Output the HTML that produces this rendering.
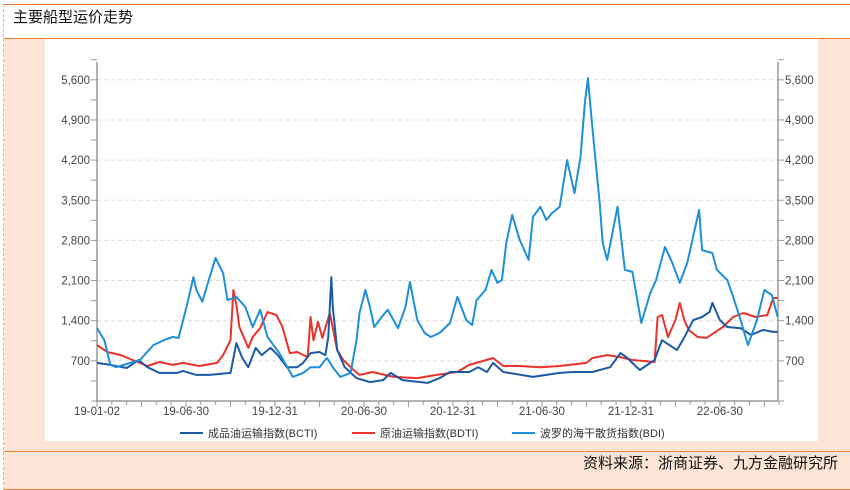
<!DOCTYPE html>
<html><head><meta charset="utf-8"><style>
body{margin:0;width:850px;height:490px;background:#fff;position:relative;overflow:hidden;font-family:"Liberation Sans","Noto Sans CJK SC",sans-serif}
.abs{position:absolute}
</style></head><body>
<div class="abs" style="left:3px;top:4px;width:0;height:486px;border-left:1px dashed #bbb"></div>
<div class="abs" style="left:4px;top:4px;width:846px;height:1px;background:#ed7d31"></div>
<div class="abs" style="left:13px;top:6px;font-size:15px;color:#111;font-family:'Noto Sans CJK SC',sans-serif">主要船型运价走势</div>
<div class="abs" style="left:4px;top:38px;width:846px;height:1px;background:#ed7d31"></div>
<div class="abs" style="left:4px;top:39px;width:846px;height:412px;background:#fce4d6"></div>
<div class="abs" style="left:4px;top:451px;width:846px;height:37px;background:#fce4d6;border-top:1px solid #ed7d31;border-bottom:1px solid #ed7d31"></div>
<div class="abs" style="right:12px;top:452px;font-size:15px;color:#111;font-family:'Noto Sans CJK SC',sans-serif">资料来源：浙商证券、九方金融研究所</div>
<svg class="abs" style="left:0;top:0" width="850" height="490">
<rect x="45" y="39" width="773" height="402" fill="#fff"/>
<g id="grid"></g><g id="axes"></g><g id="series"></g><g id="legend"></g>
</svg>
<script>
const yTicks=[700,1400,2100,2800,3500,4200,4900,5600];
const xTickLabels=["19-01-02","19-06-30","19-12-31","20-06-30","20-12-31","21-06-30","21-12-31","22-06-30"];
const xTickMonths=[0,6,12,18,24,30,36,42];
const seriesNames=["成品油运输指数(BCTI)","原油运输指数(BDTI)","波罗的海干散货指数(BDI)"];
const bdiT=[0,0.5,0.9,1.3,2.2,2.9,3.8,4.5,5.1,5.5,6.1,6.5,6.7,7.1,7.5,8.0,8.5,8.8,9.4,10.0,10.5,11.0,11.5,12.3,13.2,13.9,14.4,15.0,15.5,15.9,16.4,17.1,17.5,17.7,18.1,18.4,18.7,19.2,19.6,20.0,20.3,20.8,21.1,21.6,22.1,22.5,23.1,23.8,24.3,24.9,25.3,25.6,26.2,26.6,27.0,27.3,27.6,28.0,28.5,29.1,29.4,29.9,30.3,30.7,31.2,31.7,32.2,32.6,32.9,33.1,33.4,33.9,34.1,34.4,35.1,35.6,36.1,36.7,37.3,37.7,38.3,38.8,39.3,39.8,40.6,40.8,41.5,41.8,42.5,42.9,43.4,43.9,44.5,45.0,45.5,45.9];
const bdiV=[1270,1060,630,590,660,715,975,1060,1115,1100,1710,2160,1935,1730,2075,2495,2230,1760,1815,1640,1290,1590,1115,835,420,490,590,590,750,590,420,490,1060,1535,1935,1640,1290,1465,1590,1410,1270,1640,2075,1410,1185,1115,1185,1360,1815,1410,1325,1760,1935,2285,2060,2110,2755,3245,2810,2460,3210,3385,3155,3280,3385,4200,3625,4255,5200,5630,4780,3450,2755,2460,3385,2285,2250,1360,1880,2110,2685,2405,2060,2405,3330,2630,2580,2285,2110,1815,1410,975,1410,1935,1850,1465];
const bdtiT=[0,0.7,1.6,2.4,3.4,4.2,5.1,5.8,6.9,8.1,8.5,9.0,9.2,9.4,9.6,10.2,10.5,11.0,11.5,12.1,12.5,13.0,13.5,14.2,14.4,14.6,14.9,15.2,15.7,16.2,16.6,17.3,17.7,18.6,20.0,21.6,22.9,24.3,25.1,25.8,26.7,27.4,28.5,29.9,31.2,33.0,33.4,34.4,35.3,36.1,37.6,37.8,38.1,38.5,39.0,39.3,39.6,39.9,40.5,41.1,41.7,42.2,42.9,43.6,44.4,45.2,45.6,45.9];
const bdtiV=[975,855,800,715,610,680,630,665,610,665,800,1060,1935,1675,1290,925,1115,1270,1550,1500,1290,835,855,765,1465,1060,1380,1100,1535,890,715,540,455,505,420,400,455,505,630,680,750,610,610,590,610,665,750,800,765,715,680,1465,1500,1115,1410,1710,1410,1240,1115,1100,1205,1290,1465,1535,1465,1500,1795,1795];
const bctiT=[0,0.9,2.0,2.8,3.4,4.2,5.4,5.8,6.7,7.6,9.0,9.4,9.8,10.2,10.7,11.1,11.7,12.2,12.8,13.5,13.9,14.4,15.0,15.4,15.6,15.8,15.9,16.2,16.7,17.5,18.4,19.3,19.8,20.6,22.3,23.1,23.8,25.1,25.7,26.3,26.7,27.4,29.4,31.2,32.1,33.4,34.6,35.3,35.7,36.4,36.6,37.6,38.1,39.1,39.5,40.2,40.8,41.3,41.5,42.0,42.5,43.4,44.1,44.9,45.6,45.9];
const bctiV=[665,630,575,715,590,490,490,525,455,455,490,1010,750,590,925,800,925,800,590,590,665,835,855,800,1115,2160,1640,890,590,400,330,365,490,365,315,400,505,505,590,505,665,505,420,490,505,505,590,835,765,590,540,715,1060,890,1060,1410,1465,1550,1710,1410,1290,1270,1150,1240,1205,1205];

const NS="http://www.w3.org/2000/svg";
const X0=97,X1=778,Y0=401,YTOP=79.8;
const xs=m=>X0+m*14.83;
const ys=v=>Y0-v*(Y0-YTOP)/5600;
function mk(tag,attrs,parent){const e=document.createElementNS(NS,tag);for(const k in attrs)e.setAttribute(k,attrs[k]);document.getElementById(parent).appendChild(e);return e;}
yTicks.forEach(v=>{
  const g=mk('line',{x1:X0,x2:X1,y1:ys(v),y2:ys(v),stroke:'#ddd','stroke-dasharray':'4,3'},'grid');
  
  
  const l=mk('text',{x:90,y:ys(v)+4,'text-anchor':'end','font-size':'11.5',fill:'#444'},'axes');l.textContent=v.toLocaleString('en-US');
  
  
  const r=mk('text',{x:785,y:ys(v)+4,'font-size':'11.5',fill:'#444'},'axes');r.textContent=v.toLocaleString('en-US');
  
  
});
for(let v=0;v<=5950;v+=350){
  mk('line',{x1:X0-6,x2:X0,y1:ys(v),y2:ys(v),stroke:'#999'},'axes');
  mk('line',{x1:X1,x2:X1+6,y1:ys(v),y2:ys(v),stroke:'#999'},'axes');
}
mk('line',{x1:X0,x2:X0,y1:62,y2:Y0,stroke:'#999','stroke-width':1.5},'axes');
mk('line',{x1:X1,x2:X1,y1:62,y2:Y0,stroke:'#999','stroke-width':1.5},'axes');
mk('line',{x1:X0,x2:X1,y1:Y0,y2:Y0,stroke:'#999','stroke-width':1.5},'axes');
for(let m=0;m<=46;m++){mk('line',{x1:xs(m),x2:xs(m),y1:Y0,y2:Y0+(m%3==0?6:4),stroke:'#999'},'axes');}
xTickLabels.forEach((t,i)=>{const e=mk('text',{x:xs(xTickMonths[i]),y:415,'text-anchor':'middle','font-size':'11.5',fill:'#444'},'axes');e.textContent=t;
  
  });
function line(T,V,color,name){
  const d=T.map((t,i)=>(i?'L':'M')+xs(t).toFixed(1)+','+ys(V[i]).toFixed(1)).join('');
  const p=mk('path',{d:d,fill:'none',stroke:color,'stroke-width':2,'stroke-linejoin':'round'},'series');
  
  
}
line(bdtiT,bdtiV,'#e8322a','bdti-line');
line(bctiT,bctiV,'#1c5aa6','bcti-line');
line(bdiT,bdiV,'#1f8fd8','bdi-line');
const legCol=['#1c5aa6','#e8322a','#1f8fd8'],legX=[180,352,512];
seriesNames.forEach((n,i)=>{
  mk('line',{x1:legX[i],x2:legX[i]+23,y1:433,y2:433,stroke:legCol[i],'stroke-width':2},'legend');
  const t=mk('text',{x:legX[i]+28,y:437,'font-size':'11',fill:'#333'},'legend');t.textContent=n;
  
  
});
</script>
</body></html>
